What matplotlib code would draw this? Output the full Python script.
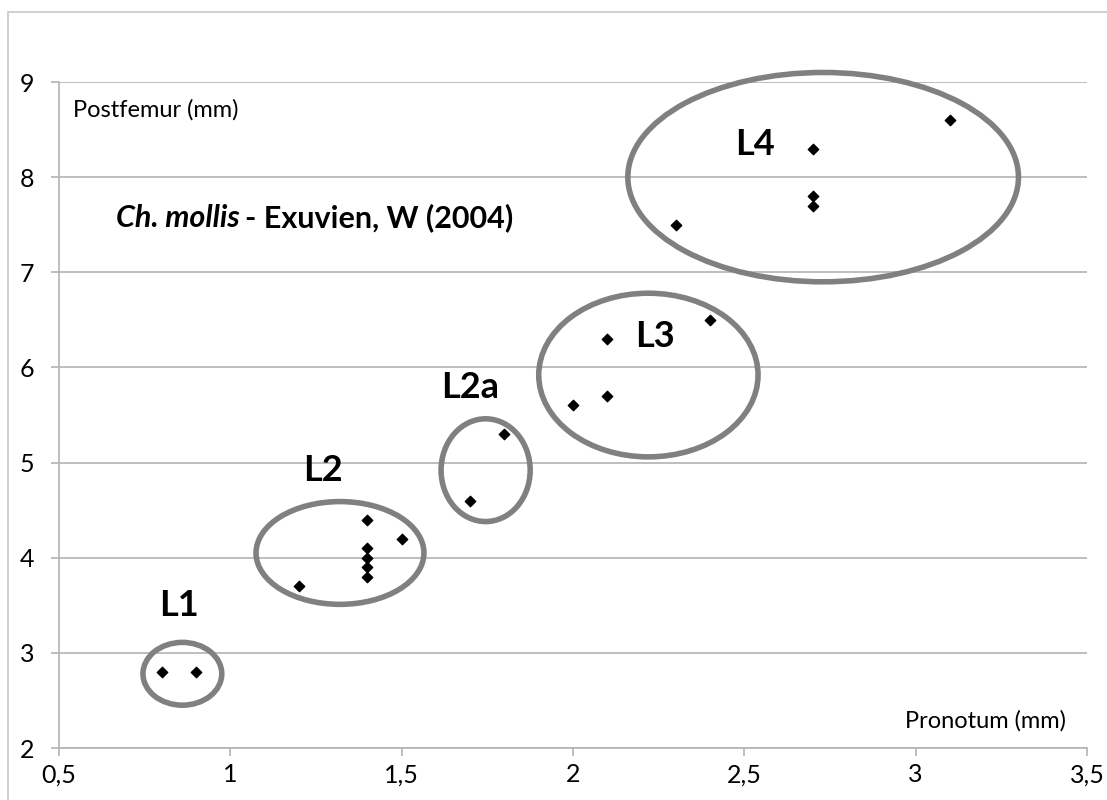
import matplotlib.pyplot as plt
from matplotlib.patches import Ellipse, Rectangle

plt.rcParams['font.family'] = ['Lato', 'DejaVu Sans']

# data: pronotum (x) vs postfemur (y), mm
pronotum = [0.8, 0.9,
            1.2, 1.4, 1.4, 1.4, 1.4, 1.4, 1.5,
            1.7, 1.8,
            2.0, 2.1, 2.1, 2.4,
            2.3, 2.7, 2.7, 2.7, 3.1]
postfemur = [2.8, 2.8,
             3.7, 4.4, 4.1, 4.0, 3.9, 3.8, 4.2,
             4.6, 5.3,
             5.6, 6.3, 5.7, 6.5,
             7.5, 8.3, 7.8, 7.7, 8.6]

# instar groups: label, ellipse centre, width, height, label position
stages = ['L1', 'L2', 'L2a', 'L3', 'L4']
ell_center = [(0.86, 2.78), (1.32, 4.05), (1.745, 4.92), (2.22, 5.92), (2.73, 8.0)]
ell_width = [0.23, 0.49, 0.26, 0.64, 1.14]
ell_height = [0.66, 1.08, 1.08, 1.72, 2.2]
label_pos = [(0.85, 3.5), (1.27, 4.92), (1.70, 5.79), (2.24, 6.32), (2.53, 8.34)]

xticks = [0.5, 1, 1.5, 2, 2.5, 3, 3.5]
xticklabels = ['0,5', '1', '1,5', '2', '2,5', '3', '3,5']
yticks = [2, 3, 4, 5, 6, 7, 8, 9]

fig = plt.figure(figsize=(11.07, 8.0), dpi=100)
ax = fig.add_axes([59 / 1107, 52 / 800, 1028 / 1107, 666 / 800])

# outer chart border
fig.patches.append(Rectangle((8 / 1107, -0.01), 1.1, (800 - 12) / 800 + 0.01,
                             transform=fig.transFigure, fill=False,
                             edgecolor='#c8c8c8', linewidth=1.2))

ax.set_xlim(0.5, 3.5)
ax.set_ylim(2, 9)
ax.set_xticks(xticks)
ax.set_xticklabels(xticklabels)
ax.set_yticks(yticks)
ax.grid(axis='y', color='#b3b3b3', linewidth=1.2)
ax.set_axisbelow(True)
for s in ['top', 'right']:
    ax.spines[s].set_visible(False)
for s in ['left', 'bottom']:
    ax.spines[s].set_color('#b3b3b3')
    ax.spines[s].set_linewidth(1.2)
ax.tick_params(axis='both', colors='#b3b3b3', labelcolor='black',
               labelsize=18, length=6, width=1.2)
ax.tick_params(axis='x', pad=5)
ax.tick_params(axis='y', pad=12)

ax.scatter(pronotum, postfemur, marker='D', s=28, color='black', zorder=3)

for lab, c, w, h, p in zip(stages, ell_center, ell_width, ell_height, label_pos):
    ax.add_patch(Ellipse(c, w, h, fill=False, edgecolor='#808080', linewidth=4,
                         zorder=2, clip_on=False))
    ax.text(p[0], p[1], lab, fontsize=26, fontweight='bold', ha='center', va='center')

ax.text(0.54, 8.71, 'Postfemur (mm)', fontsize=17, ha='left', va='center')
ax.text(3.44, 2.29, 'Pronotum (mm)', fontsize=17, ha='right', va='center')
t1 = ax.text(0.667, 7.57, 'Ch. mollis', fontsize=22, fontweight='bold', style='italic',
             ha='left', va='center')
fig.canvas.draw()
bb = t1.get_window_extent().transformed(ax.transData.inverted())
ax.text(bb.x1 + 0.015, 7.57, '- Exuvien, W (2004)', fontsize=22, fontweight='bold',
        ha='left', va='center')

fig.savefig('out.png', dpi=100)
